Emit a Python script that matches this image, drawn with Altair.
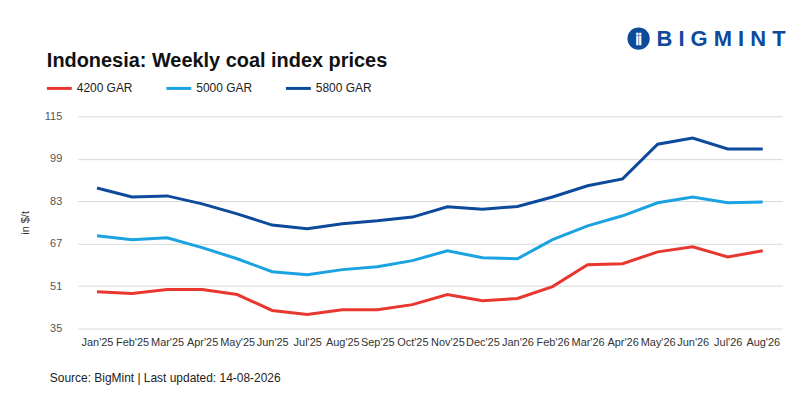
import pandas as pd
import altair as alt

months = ["Jan'25", "Feb'25", "Mar'25", "Apr'25", "May'25", "Jun'25", "Jul'25", "Aug'25",
          "Sep'25", "Oct'25", "Nov'25", "Dec'25", "Jan'26", "Feb'26", "Mar'26", "Apr'26",
          "May'26", "Jun'26", "Jul'26", "Aug'26"]
gar_4200 = [48.9, 48.2, 49.7, 49.7, 47.8, 41.8, 40.3, 42.1, 42.1, 44.0,
            47.8, 45.5, 46.3, 50.8, 59.0, 59.4, 63.9, 65.8, 62.0, 64.3]
gar_5000 = [70.0, 68.5, 69.2, 65.5, 61.3, 56.4, 55.3, 57.2, 58.3, 60.6,
            64.3, 61.7, 61.3, 68.5, 73.7, 77.5, 82.4, 84.6, 82.4, 82.7]
gar_5800 = [88.0, 84.6, 85.0, 82.0, 78.2, 74.0, 72.6, 74.5, 75.6, 77.0,
            80.9, 80.0, 81.0, 84.6, 88.8, 91.4, 104.5, 106.8, 102.7, 102.7]
series = ["4200 GAR", "5000 GAR", "5800 GAR"]
colors = ["#e8372f", "#1aa3e0", "#0d4a9c"]

rows = []
for name, vals in zip(series, [gar_4200, gar_5000, gar_5800]):
    for m, v in zip(months, vals):
        rows.append({"Month": m, "Price": v, "Series": name})
df = pd.DataFrame(rows)

FONT = "Liberation Sans"

lines = alt.Chart(df).mark_line(strokeWidth=3).encode(
    x=alt.X("Month:N", sort=months, title=None,
            scale=alt.Scale(type="point", padding=0.55),
            axis=alt.Axis(labelAngle=0, labelFontSize=11, labelColor="#333", domain=False,
                          ticks=False, labelPadding=8, labelFont=FONT)),
    y=alt.Y("Price:Q", title="in $/t", scale=alt.Scale(domain=[35, 115], nice=False),
            axis=alt.Axis(values=[35, 51, 67, 83, 99, 115], domain=False, ticks=False,
                          gridColor="#d9d9d9", labelColor="#555", labelFontSize=11,
                          labelPadding=16, titleFontWeight="normal", titleFontSize=11,
                          titleColor="#333", titlePadding=14, labelFont=FONT, titleFont=FONT)),
    color=alt.Color("Series:N", scale=alt.Scale(domain=series, range=colors), legend=None),
)

def txt(s, x, y, size=12, weight="normal", color="#222", align="left"):
    return alt.Chart(pd.DataFrame({"t": [s]})).mark_text(
        text=s, fontSize=size, fontWeight=weight, color=color, align=align,
        baseline="middle", font=FONT
    ).encode(x=alt.value(x), y=alt.value(y))

L = 70  # left padding
layers = [lines,
          txt("Indonesia: Weekly coal index prices", 47 - 8 - L, -56, 20, "bold", "#111"),
          txt("Source: BigMint | Last updated: 14-08-2026", 50 - 8 - L, 263, 12, "normal", "#222"),
          txt("B I G M I N T", 659 - 8 - L, -78, 22, "bold", "#0d4a9c")]

for i, (name, col) in enumerate(zip(series, colors)):
    x0 = 47 - 8 - L + i * 120
    layers.append(alt.Chart(pd.DataFrame({"a": [0]})).mark_rule(color=col, strokeWidth=3).encode(
        x=alt.value(x0), x2=alt.value(x0 + 25), y=alt.value(-28)))
    layers.append(txt(name, x0 + 30, -28, 12))

layers.append(alt.Chart(pd.DataFrame({"a": [0]})).mark_point(
    filled=True, size=500, color="#0d4a9c", shape="circle", opacity=1).encode(
    x=alt.value(641 - 8 - L), y=alt.value(-78)))
layers.append(txt("ⅱ", 641 - 8 - L, -77, 16, "bold", "white", "center"))

chart = alt.layer(*layers).properties(
    width=707, height=213,
    autosize=alt.AutoSizeParams(type="none"),
    padding={"left": L, "top": 108, "right": 10, "bottom": 60},
).configure_view(strokeWidth=0)

chart.save("out.html", embed_options={"renderer": "svg", "actions": False})
